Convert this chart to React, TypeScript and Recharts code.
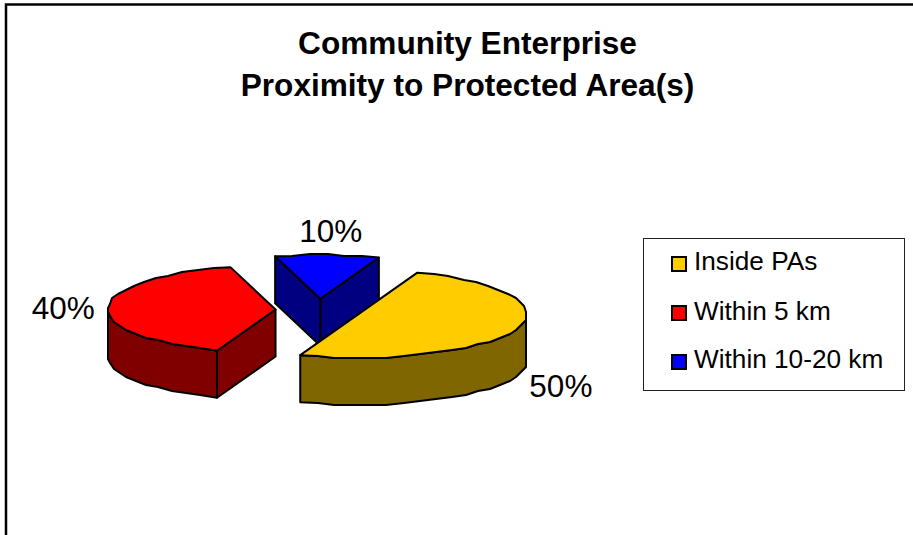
import { PieChart, Pie, Legend } from 'recharts';

const categories = ['Inside PAs', 'Within 5 km', 'Within 10-20 km'];
const shares = [50, 40, 10];
const topColors = ['#FFCC00', '#FF0000', '#0000FF'];
const wallColors = ['#806600', '#800000', '#000080'];
const titleLines = ['Community Enterprise', 'Proximity to Protected Area(s)'];

// slices are painted back to front, so the rear one goes first
const pieData = categories
  .map((name, i) => ({ name, value: shares[i], fill: topColors[i], wall: wallColors[i] }))
  .reverse();

const FONT = 'Arial, "Liberation Sans", sans-serif';
const TILT = 0.262; // vertical squash of the pie disc
const DEPTH = 47;
const EXPLODE = 43;
const RAD = Math.PI / 180;

type Pt = [number, number];

const toPath = (pts: Pt[]) => 'M' + pts.map((p) => `${p[0]},${p[1]}`).join('L') + 'Z';

// coarse vertex grid gives the arc its faceted outline
const snap = (v: number) => Math.round(v / 2) * 2;

// slice centre after being pulled out along its mid angle
function sliceCenter(cx: number, cy: number, midAngle: number): Pt {
  return [cx + EXPLODE * Math.cos(midAngle * RAD), cy - EXPLODE * TILT * Math.sin(midAngle * RAD)];
}

function Slice3D(props: any) {
  const { cx, cy, outerRadius, startAngle, endAngle, midAngle, fill, payload } = props;
  const [x0, y0] = sliceCenter(cx, cy, midAngle);
  const lo = Math.min(startAngle, endAngle);
  const hi = Math.max(startAngle, endAngle);

  const arc: Pt[] = [];
  const steps = Math.max(3, Math.round((hi - lo) / 6));
  for (let i = 0; i <= steps; i++) {
    const a = (lo + ((hi - lo) * i) / steps) * RAD;
    const x = x0 + outerRadius * Math.cos(a);
    const y = y0 - outerRadius * TILT * Math.sin(a);
    arc.push(i === 0 || i === steps ? [x, y] : [snap(x), snap(y)]);
  }
  const center: Pt = [x0, y0];
  const drop = (p: Pt): Pt => [p[0], p[1] + DEPTH];
  const extrude = (run: Pt[]) => toPath([...run, ...run.map(drop).reverse()]);

  // walls exist only where an outline edge runs left to right, i.e. faces the viewer
  const arcRun: Pt[] = [];
  arc.forEach((p, i) => {
    const a = lo + ((hi - lo) * i) / steps;
    const norm = ((a % 360) + 360) % 360;
    if (norm >= 180) arcRun.push(p);
  });
  const first = arc[0];
  const last = arc[arc.length - 1];

  const walls: string[] = [];
  if (arcRun.length > 1) walls.push(extrude(arcRun));
  if (first[0] > center[0]) walls.push(extrude([center, first]));
  if (center[0] > last[0]) walls.push(extrude([last, center]));

  return (
    <g stroke="#000" strokeWidth={2} strokeLinejoin="round">
      {walls.map((d, i) => (
        <path key={i} d={d} fill={payload.wall} />
      ))}
      <path d={toPath([center, ...arc])} fill={fill} />
    </g>
  );
}

function PercentLabel(props: any) {
  const { cx, cy, outerRadius, midAngle, value } = props;
  const [x0, y0] = sliceCenter(cx, cy, midAngle);
  const c = Math.cos(midAngle * RAD);
  const s = Math.sin(midAngle * RAD);
  const x = x0 + (outerRadius + 46) * c + 1.5;
  const y = y0 - (outerRadius * TILT + 25) * s + (s < -0.1 ? DEPTH : 0);
  return (
    <text x={x} y={y + 1} textAnchor="middle" dominantBaseline="central" fontFamily={FONT} fontSize={31.5} fill="#000">
      {value}%
    </text>
  );
}

function LegendBox() {
  const rows = [261, 311, 359];
  return (
    <div
      style={{
        position: 'relative',
        boxSizing: 'border-box',
        width: 262,
        height: 153,
        border: '1px solid #222',
        background: '#fff',
        fontFamily: FONT,
        fontSize: 26.2,
        color: '#000',
      }}
    >
      {categories.map((name, i) => (
        <div key={name}>
          <span
            style={{
              position: 'absolute',
              left: 27,
              top: rows[i] - 238 - 6 + (i === 1 ? -1 : 0),
              width: 12,
              height: 12,
              border: '2px solid #000',
              background: topColors[i],
            }}
          />
          <span style={{ position: 'absolute', left: 50, top: rows[i] - 238 - 15, lineHeight: '28px', whiteSpace: 'nowrap' }}>
            {name}
          </span>
        </div>
      ))}
    </div>
  );
}

export default function App() {
  return (
    <div style={{ position: 'absolute', left: 0, top: 0, width: 913, height: 535, background: '#fff', overflow: 'hidden' }}>
      <PieChart width={913} height={535} margin={{ top: 0, right: 0, bottom: 0, left: 0 }}>
        <rect x={6} y={4.5} width={920} height={540} fill="#fff" stroke="#000" strokeWidth={2.5} />
        {titleLines.map((line, i) => (
          <text
            key={line}
            x={467.5}
            y={43 + i * 42}
            textAnchor="middle"
            dominantBaseline="central"
            fontFamily={FONT}
            fontWeight="bold"
            fontSize={31.6}
            fill="#000"
          >
            {line}
          </text>
        ))}
        <Pie
          data={pieData}
          dataKey="value"
          nameKey="name"
          cx={318.5}
          cy={310}
          innerRadius={0}
          outerRadius={168}
          startAngle={69.6}
          endAngle={429.6}
          paddingAngle={0}
          stroke="none"
          shape={Slice3D}
          label={PercentLabel}
          labelLine={false}
          isAnimationActive={false}
        />
        <Legend content={LegendBox} wrapperStyle={{ left: 643, top: 238, width: 262, height: 153, bottom: 'auto' }} />
      </PieChart>
    </div>
  );
}
